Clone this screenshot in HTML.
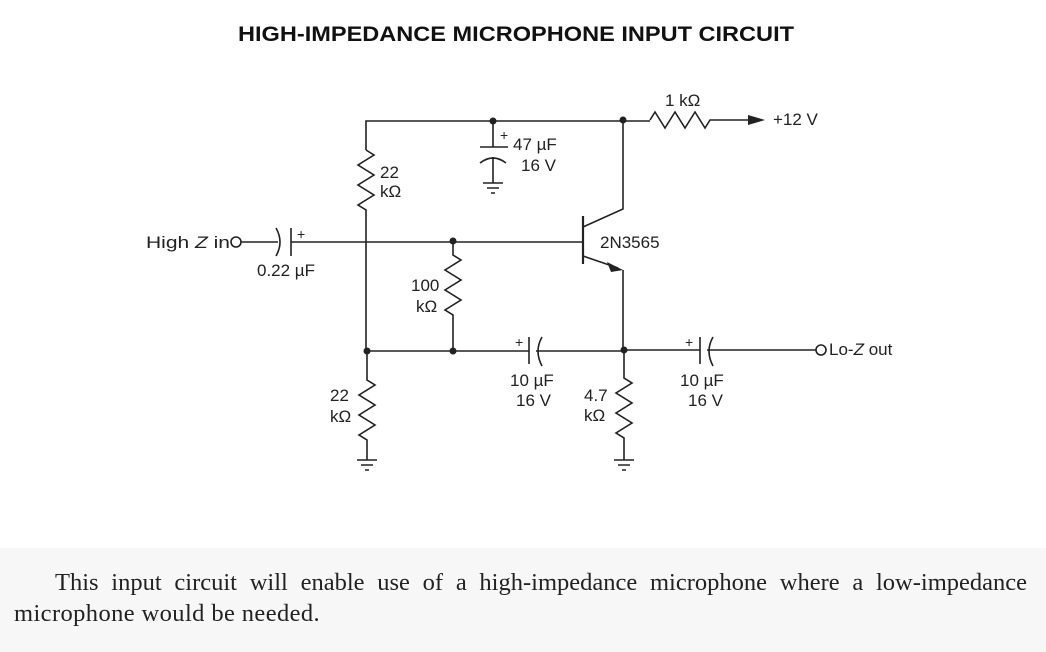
<!DOCTYPE html>
<html><head><style>
body{margin:0;width:1046px;height:652px;background:#fff;overflow:hidden;position:relative}
.t{position:absolute;font-family:"Liberation Serif",serif;font-size:24.5px;color:#222;white-space:nowrap}
</style></head><body>
<div style="position:absolute;left:0;top:548px;width:1046px;height:104px;background:#f7f7f7"></div>
<div class="t" style="left:55px;top:569px;width:972px;text-align:justify;text-align-last:justify">This input circuit will enable use of a high-impedance microphone where a low-impedance</div>
<div class="t" style="left:14px;top:600px;letter-spacing:0.4px">microphone would be needed.</div>
<svg width="1046" height="652" style="position:absolute;left:0;top:0" font-family="Liberation Sans, sans-serif" fill="none" stroke="#222" stroke-width="1.6">
<text x="516" y="41" text-anchor="middle" font-size="21" font-weight="bold" fill="#111" stroke="none" textLength="556" lengthAdjust="spacingAndGlyphs">HIGH-IMPEDANCE MICROPHONE INPUT CIRCUIT</text>
<g fill="#222" stroke="none" font-size="17">
<text x="146" y="248" textLength="84" lengthAdjust="spacingAndGlyphs">High <tspan font-style="italic">Z</tspan> in</text>
<text x="257" y="276">0.22 µF</text>
<text x="380" y="178">22</text><text x="380" y="197">kΩ</text>
<text x="411" y="291">100</text><text x="416" y="312">kΩ</text>
<text x="330" y="401">22</text><text x="330" y="422">kΩ</text>
<text x="513" y="150">47 µF</text><text x="521" y="171">16 V</text>
<text x="510" y="386">10 µF</text><text x="516" y="406">16 V</text>
<text x="584" y="401">4.7</text><text x="584" y="421">kΩ</text>
<text x="680" y="386">10 µF</text><text x="688" y="406">16 V</text>
<text x="600" y="248">2N3565</text>
<text x="665" y="106">1 kΩ</text>
<text x="773" y="125">+12 V</text>
<text x="829" y="355">Lo-<tspan font-style="italic">Z</tspan> out</text>
<text x="297" y="239" font-size="14">+</text>
<text x="500" y="140" font-size="14">+</text>
<text x="515" y="347" font-size="14">+</text>
<text x="685" y="347" font-size="14">+</text>
<circle cx="367" cy="351" r="3.5"/><circle cx="453" cy="351" r="3.5"/><circle cx="624" cy="350" r="3.5"/>
<circle cx="453" cy="241" r="3.5"/><circle cx="493" cy="121" r="3.5"/><circle cx="623" cy="120" r="3.5"/>
<polygon points="623,270 607,262 611,272"/>
<polygon points="765,120 748,115 748,125"/>
</g>
<path d="M366 150 V121 H650"/>
<path d="M650 120 l5 -8 l10 16 l10 -16 l10 16 l10 -16 l10 16 l5 -8 H750"/>
<path d="M366 150 l8 5 l-16 10 l16 10 l-16 10 l16 10 l-16 10 l8 5 V351"/>
<circle cx="236" cy="242" r="5"/>
<path d="M241 242 H278"/>
<path d="M276 228 Q284 242 276 256"/>
<path d="M291 228 V256"/>
<path d="M291 242 H583"/>
<path d="M453 241 V255 l8 5 l-16 10 l16 10 l-16 10 l16 10 l-16 10 l8 5 V351"/>
<path d="M367 351 H529"/><path d="M529 337 V364"/><path d="M542 337 Q534 351 542 366"/>
<path d="M536 351 H624"/>
<path d="M367 351 V380 l8 5 l-16 10 l16 10 l-16 10 l16 10 l-16 10 l8 5 V460"/>
<path d="M357 460 H377 M361 465 H373 M365 470 H369"/>
<path d="M493 121 V147 M480 147 H508"/><path d="M480 163 Q493 153 506 163"/><path d="M493 157 V183 M483 183 H503 M487 188 H499 M491 193 H495"/>
<path d="M583 216 V264" stroke-width="2.2"/>
<path d="M583 227 L623 209 V120"/>
<path d="M583 256 L618 268"/>
<path d="M623 270 V350"/>
<path d="M624 350 V378 l8 5 l-16 10 l16 10 l-16 10 l16 10 l-16 10 l8 5 V460"/>
<path d="M614 460 H634 M618 465 H630 M622 470 H626"/>
<path d="M624 350 H700 M700 337 V364"/><path d="M713 337 Q705 351 713 366"/><path d="M707 350 H816"/>
<circle cx="821" cy="350" r="5"/>
</svg>
</body></html>
